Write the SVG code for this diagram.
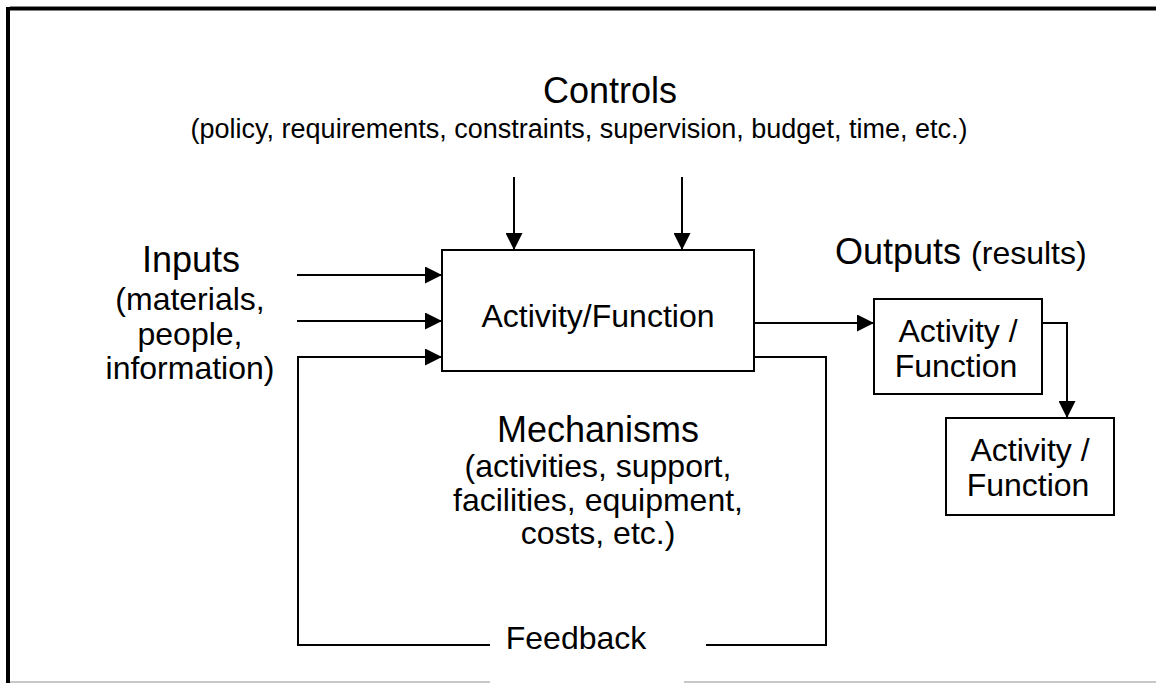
<svg xmlns="http://www.w3.org/2000/svg" width="1156" height="683" viewBox="0 0 1156 683">
<defs>
<style>
.t{font-family:"Liberation Sans",Arial,sans-serif;fill:#000}
.box{fill:#fff;stroke:#000;stroke-width:2}
.ln{fill:none;stroke:#000;stroke-width:2}
</style>
<marker id="ah" markerUnits="userSpaceOnUse" markerWidth="17" markerHeight="17" viewBox="0 0 16 16" refX="16" refY="8" orient="auto">
<path d="M0,0 L16,8 L0,16 Z" fill="#000"/>
</marker>
</defs>
<rect width="1156" height="683" fill="#fff"/>
<g id="frame">
<line x1="10" y1="6.5" x2="1156" y2="6.5" stroke="#888" stroke-width="1"/>
<line x1="6" y1="8.8" x2="1156" y2="8.8" stroke="#000" stroke-width="3.6"/>
<line x1="8" y1="7" x2="8" y2="683" stroke="#000" stroke-width="4"/>
<line x1="10" y1="682" x2="490" y2="682" stroke="#c8c8c8" stroke-width="2"/>
<line x1="684" y1="682" x2="1156" y2="682" stroke="#c8c8c8" stroke-width="2"/>
</g>
<g id="controls-label">
<text class="t" x="610" y="103" font-size="36" text-anchor="middle">Controls</text>
<text class="t" x="579" y="138" font-size="27" text-anchor="middle">(policy, requirements, constraints, supervision, budget, time, etc.)</text>
</g>
<g id="inputs-label">
<text class="t" x="191" y="272" font-size="36" text-anchor="middle">Inputs</text>
<text class="t" x="190" y="310" font-size="32" text-anchor="middle">(materials,</text>
<text class="t" x="190" y="345" font-size="32" text-anchor="middle">people,</text>
<text class="t" x="190" y="379" font-size="32" text-anchor="middle">information)</text>
</g>
<g id="outputs-label">
<text class="t" x="835" y="264" font-size="36">Outputs <tspan font-size="32">(results)</tspan></text>
</g>
<g id="mechanisms-label">
<text class="t" x="598" y="442" font-size="36" text-anchor="middle">Mechanisms</text>
<text class="t" x="598" y="477" font-size="32" text-anchor="middle">(activities, support,</text>
<text class="t" x="598" y="511" font-size="32" text-anchor="middle">facilities, equipment,</text>
<text class="t" x="598" y="544" font-size="32" text-anchor="middle">costs, etc.)</text>
</g>
<g id="main-activity">
<rect class="box" x="442" y="250" width="312" height="121"/>
<text class="t" x="598" y="327" font-size="32" text-anchor="middle">Activity/Function</text>
</g>
<g id="activity-2">
<rect class="box" x="874" y="299" width="168" height="95"/>
<text class="t" x="958" y="342" font-size="32" text-anchor="middle">Activity /</text>
<text class="t" x="956" y="377" font-size="32" text-anchor="middle">Function</text>
</g>
<g id="activity-3">
<rect class="box" x="946" y="418" width="168" height="97"/>
<text class="t" x="1030" y="461" font-size="32" text-anchor="middle">Activity /</text>
<text class="t" x="1028" y="496" font-size="32" text-anchor="middle">Function</text>
</g>
<g id="feedback-label">
<text class="t" x="576" y="649" font-size="32" text-anchor="middle">Feedback</text>
</g>
<g id="connectors">
<line class="ln" x1="514" y1="177" x2="514" y2="250" marker-end="url(#ah)"/>
<line class="ln" x1="682" y1="177" x2="682" y2="250" marker-end="url(#ah)"/>
<line class="ln" x1="297" y1="275" x2="442" y2="275" marker-end="url(#ah)"/>
<line class="ln" x1="297" y1="321" x2="442" y2="321" marker-end="url(#ah)"/>
<path class="ln" d="M754,357 H826 V645 H706"/>
<path class="ln" d="M490,645 H298 V357 H442" marker-end="url(#ah)"/>
<line class="ln" x1="754" y1="323" x2="874" y2="323" marker-end="url(#ah)"/>
<path class="ln" d="M1042,323 H1067 V418" marker-end="url(#ah)"/>
</g>
</svg>
